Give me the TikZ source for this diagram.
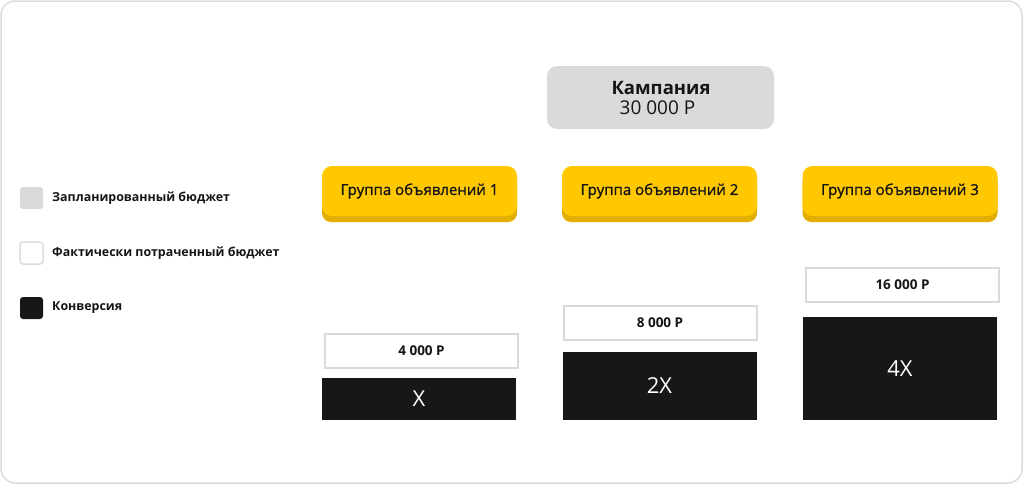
\documentclass[tikz,border=0pt]{standalone}
\usepackage{fontspec}
\setmainfont{Open Sans}
\newfontfamily\medfont[FakeBold=1.2]{Open Sans}
\definecolor{frame}{HTML}{DDDDDD}
\definecolor{plan}{HTML}{DADADA}
\definecolor{ylw}{HTML}{FFC800}
\definecolor{ylwdark}{HTML}{E2AE00}
\definecolor{conv}{HTML}{171717}
\definecolor{txt}{HTML}{151515}
\begin{document}
\begin{tikzpicture}[x=1pt,y=-1pt,
  campbox/.style={fill=plan,rounded corners=10pt,minimum width=227pt,minimum height=63pt,inner sep=0pt,align=center,text=txt},
  grpbox/.style={fill=ylw,rounded corners=10pt,minimum width=195pt,minimum height=50pt,inner sep=0pt,text=txt,font=\medfont\fontsize{15}{18}\selectfont},
  grpshadow/.style={fill=ylwdark,rounded corners=9pt,minimum width=195pt,minimum height=50pt,inner sep=0pt},
  budbox/.style={fill=white,draw=plan,line width=2pt,minimum width=193pt,minimum height=34pt,inner sep=0pt,text=txt,font=\bfseries\fontsize{13.5}{16}\selectfont},
  convbox/.style={fill=conv,minimum width=194pt,inner sep=0pt,text=white,font=\fontsize{22}{26}\selectfont},
  legsq/.style={rounded corners=3pt,minimum width=23pt,minimum height=22pt,inner sep=0pt},
  legtxt/.style={anchor=west,inner sep=0pt,text=txt,font=\bfseries\fontsize{12.4}{14}\selectfont}
]
\useasboundingbox (0,0) rectangle (1024,485);
\draw[frame,line width=1.5pt,rounded corners=14pt] (1,1) rectangle (1022,483);

% campaign
\node[campbox] (camp) at (660.5,97.5) {};
\node[inner sep=0pt,text=txt,font=\bfseries\fontsize{18.5}{22}\selectfont] (campt) at (661,88) {Кампания};
\node[inner sep=0pt,text=txt,font=\fontsize{19}{22}\selectfont] (campv) at (657.5,108) {30 000 Р};

% groups
\foreach \i/\x in {1/419.5,2/659.5,3/900}{
  \node[grpshadow] (gs\i) at (\x,197) {};
  \node[grpbox] (g\i) at (\x,191) {Группа объявлений \i};
}

% legend
\node[legsq,fill=plan] (l1) at (31.5,198) {};
\node[legsq,fill=white,draw=frame,line width=1.5pt] (l2) at (31.5,253) {};
\node[legsq,fill=conv] (l3) at (31.5,308) {};
\node[legtxt] (lt1) at (52,198) {Запланированный бюджет};
\node[legtxt] (lt2) at (52,253) {Фактически потраченный бюджет};
\node[legtxt] (lt3) at (52,308) {Конверсия};

% budgets
\node[budbox] (b1) at (421.5,351) {4 000 Р};
\node[budbox] (b2) at (660,323) {8 000 Р};
\node[budbox] (b3) at (902.5,285) {16 000 Р};

% conversions
\node[convbox,minimum height=42pt] (c1) at (419,399) {X};
\node[convbox,minimum height=68pt] (c2) at (659.5,386) {2X};
\node[convbox,minimum height=103pt] (c3) at (900,368.5) {4X};
\end{tikzpicture}
\end{document}
